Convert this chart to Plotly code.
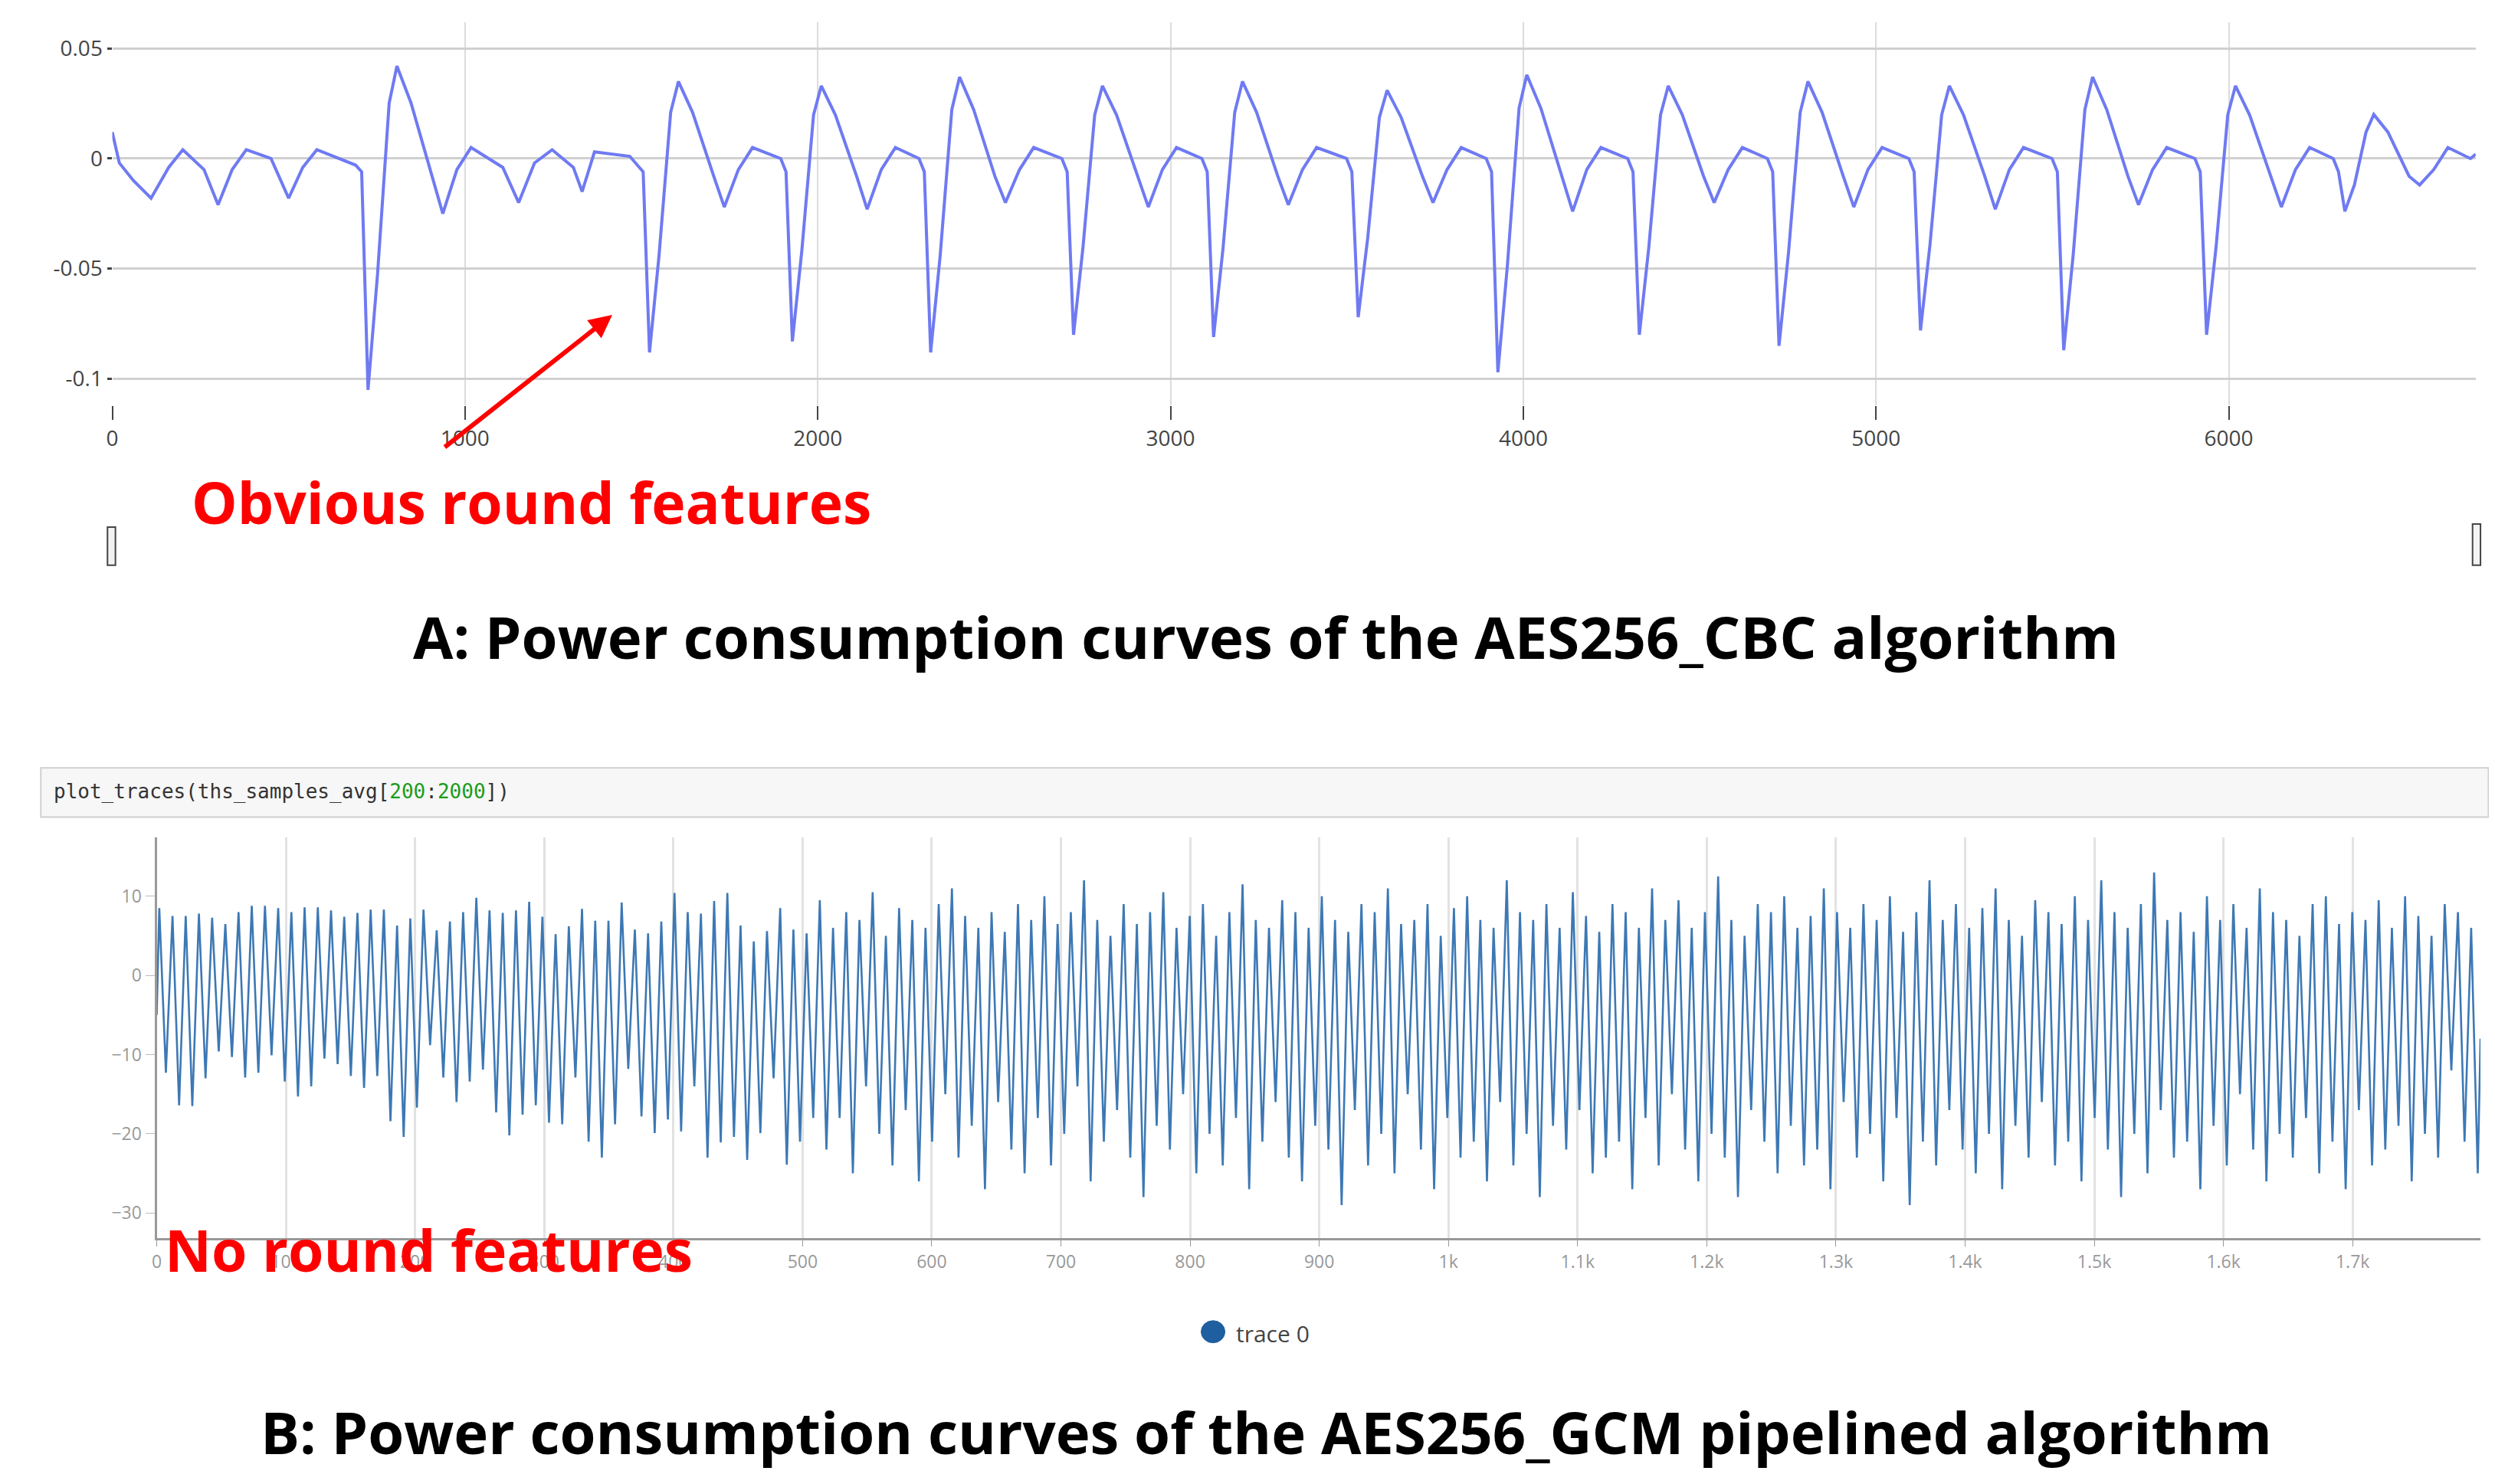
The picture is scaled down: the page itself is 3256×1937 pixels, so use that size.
import plotly.graph_objects as go

W, H = 3256, 1937
DW, DH = 1568, 937  # coordinates below are read on a 1568x937 view


def px(x):
    return x / DW


def py(y):
    return 1 - y / DH


# ---- A: AES256_CBC, one vertex list per round
pre_x = [0, 20, 60, 110, 160, 200, 260, 300, 340, 380, 450, 500, 540, 580, 690]
pre_y = [0.012, -0.002, -0.01, -0.018, -0.004, 0.004, -0.005, -0.021, -0.005, 0.004, 0.0, -0.018, -0.004, 0.004, -0.003]
round_start = [707, 1505, 1910, 2302, 2707, 3104, 3514, 3910, 4311, 4707, 5108, 5514, 5919, 6311]
round_trough = [-0.105, -0.088, -0.083, -0.088, -0.080, -0.081, -0.072, -0.097, -0.080, -0.085, -0.078, -0.087, -0.080, -0.024]
round_peak = [0.042, 0.035, 0.033, 0.037, 0.033, 0.035, 0.031, 0.038, 0.033, 0.035, 0.033, 0.037, 0.033, 0.020]
round_dip = [-0.025, -0.022, -0.023, -0.020, -0.022, -0.021, -0.020, -0.024, -0.020, -0.022, -0.023, -0.021, -0.022, -0.012]
end_x, end_y = 6700, 0.002

top_x, top_y = list(pre_x), list(pre_y)
for i, d in enumerate(round_start):
    t, p, dp = round_trough[i], round_peak[i], round_dip[i]
    nxt = round_start[i + 1] if i + 1 < len(round_start) else end_x
    shape = [(0, -0.006), (18, t), (45, t * 0.5), (78, p * 0.6), (100, p),
             (140, p * 0.6), (200, -0.008), (230, dp), (270, -0.005), (310, 0.005)]
    for ox, oy in shape:
        if d + ox < nxt:
            top_x.append(d + ox)
            top_y.append(oy)
    # extra small dips in the long gap after the first round
    if nxt - d > 600:
        for ox, oy in [(400, -0.004), (445, -0.02), (490, -0.002), (540, 0.004),
                       (600, -0.004), (625, -0.015), (660, 0.003), (760, 0.001)]:
            top_x.append(d + ox)
            top_y.append(oy)
    if nxt - d <= 600:
        top_x.append(nxt - 15)
        top_y.append(0.0)
top_x.append(end_x)
top_y.append(end_y)

# ---- B: AES256_GCM pipelined, peak / trough per oscillation
peaks = [8.5, 7.5, 7.5, 7.8, 7.3, 6.5, 8, 8.8, 8.8, 8.5, 8, 8.6, 8.6, 8.2, 7.4, 7.9, 8.3, 8.3, 6.3, 7.2,
         8.3, 5.7, 6.8, 8, 9.8, 8.2, 7.9, 8.2, 9.3, 7.4, 5.2, 6.2, 8.4, 6.9, 6.9, 9.2, 5.8, 5.3, 6.8, 10.4,
         8, 7.8, 9.4, 10.4, 6.3, 4.3, 5.6, 8.5, 5.8, 5.3,
         9.5, 6, 8, 7, 10.5, 5, 8.5, 7, 6, 9, 11, 7.5, 6, 8, 5.5, 9, 7, 10, 6.5, 8, 12, 7, 5, 9, 6.5, 8,
         10.5, 6, 7.5, 9, 5, 8, 11.5, 7, 6, 9.5, 8, 6, 10, 7, 5.5, 9, 8, 11, 6.5, 7, 9, 5, 8.5, 10, 7, 6,
         12, 8, 7, 9, 6, 10.5, 7.5, 5.5, 9, 8, 6, 11, 7, 9.5, 6, 8, 12.5, 7, 5, 9, 8, 10, 6, 7.5, 11, 8,
         6, 9, 7, 10, 5.5, 8, 12, 7, 9, 6, 8.5, 11, 7, 5, 9.5, 8, 6.5, 10, 7, 12, 8, 6, 9, 13, 7, 8, 5.5,
         10, 7, 9, 6, 11, 8, 7, 5, 9, 10, 6.5, 8, 7, 9.5, 6, 10, 7.5, 5, 9, 8, 6]
troughs = [-12.3, -16.4, -16.5, -13, -9.6, -10.3, -12.9, -12.3, -10.1, -13.4, -15.3, -14, -10.5, -11.2, -12.7,
           -14.2, -12.7, -18.4, -20.4, -16.7, -8.8, -12.9, -16, -13.4, -11.9, -17.3, -20.2, -17.6, -16.4, -18.6,
           -18.8, -12.9, -21, -23, -18.8, -11.8, -17.8, -19.9, -18.2, -19.7, -14, -23, -21.1, -20.4, -23.3,
           -19.9, -13, -23.9, -21, -18,
           -22, -18, -25, -14, -20, -24, -17, -26, -21, -15, -23, -19, -27, -16, -22, -25, -18, -24, -20, -14,
           -26, -21, -17, -23, -28, -19, -22, -15, -25, -20, -24, -18, -27, -21, -16, -23, -26, -19, -22, -29,
           -17, -24, -20, -25, -15, -22, -27, -18, -23, -21, -26, -16, -24, -20, -28, -19, -22, -17, -25, -23,
           -21, -27, -18, -24, -15, -22, -26, -20, -23, -28, -17, -21, -25, -19, -24, -22, -27, -16, -23, -20,
           -26, -18, -29, -21, -24, -17, -22, -25, -20, -27, -19, -23, -16, -24, -21, -26, -18, -22, -28, -20,
           -25, -17, -23, -21, -27, -19, -24, -15, -22, -26, -20, -23, -18, -25, -21, -27, -17, -24, -22, -19,
           -26, -20, -23, -12, -21, -25]
n_samples = 1800
n_cyc = min(len(peaks), len(troughs))
period = n_samples / n_cyc
bx, by = [0], [-5]
for i in range(n_cyc):
    bx += [i * period + 2, i * period + 2 + period / 2]
    by += [peaks[i], troughs[i]]
bx.append(n_samples - 1)
by.append(-8)

b_ticks = list(range(0, 1800, 100))
b_ticktext = [str(v) if v < 1000 else f"{v / 1000:g}k" for v in b_ticks]

fig = go.Figure()
fig.add_trace(go.Scatter(x=top_x, y=top_y, mode="lines", line=dict(color="#6f7af2", width=4),
                         xaxis="x", yaxis="y", showlegend=False))
fig.add_trace(go.Scatter(x=bx, y=by, mode="lines", line=dict(color="#3d78b4", width=2.6),
                         xaxis="x2", yaxis="y2", showlegend=False))

fig.update_layout(
    width=W, height=H, margin=dict(l=0, r=0, t=0, b=0),
    paper_bgcolor="white", plot_bgcolor="white", font=dict(family="Open Sans"),
    xaxis=dict(domain=[px(63), px(1552)], range=[0, 6700], anchor="y", tickvals=list(range(0, 7000, 1000)),
               showgrid=True, gridcolor="#dcdcdc", gridwidth=2, zeroline=False, ticks="outside",
               ticklen=18, tickcolor="#444", tickwidth=2, tickfont=dict(size=28, color="#444")),
    yaxis=dict(domain=[py(252), py(10)], range=[-0.112, 0.062], anchor="x", tickvals=[-0.1, -0.05, 0, 0.05],
               ticktext=["-0.1", "-0.05", "0", "0.05"], showgrid=True, gridcolor="#d0d0d0", gridwidth=3,
               zeroline=False, ticks="outside", ticklen=6, tickcolor="#444", tickwidth=3,
               tickfont=dict(size=28, color="#444")),
    xaxis2=dict(domain=[px(91), px(1555)], range=[0, 1799], anchor="y2", tickvals=b_ticks, ticktext=b_ticktext,
                showgrid=True, gridcolor="#e2e2e2", gridwidth=3, zeroline=False, showline=True,
                linecolor="#999", linewidth=3, ticks="outside", ticklen=8, tickcolor="#999",
                tickfont=dict(size=23, color="#999")),
    yaxis2=dict(domain=[py(778), py(525)], range=[-33.2, 17.4], anchor="x2", tickvals=[-30, -20, -10, 0, 10],
                showgrid=False, zeroline=False, showline=True, linecolor="#999", linewidth=3,
                ticks="outside", ticklen=12, tickcolor="#bbb", tickfont=dict(size=23, color="#999")),
)

shapes = [
    # range slider handles
    dict(type="rect", xref="paper", yref="paper", x0=px(60), x1=px(65), y0=py(353), y1=py(329),
         line=dict(color="#444", width=2), fillcolor="#f2f2f2"),
    dict(type="rect", xref="paper", yref="paper", x0=px(1550), x1=px(1555), y0=py(353), y1=py(327),
         line=dict(color="#444", width=2), fillcolor="#f2f2f2"),
    # notebook code cell
    dict(type="rect", xref="paper", yref="paper", x0=px(18), x1=px(1560), y0=py(512), y1=py(481),
         line=dict(color="#d0d0d0", width=2), fillcolor="#f7f7f7", layer="below"),
    # legend marker
    dict(type="circle", xref="paper", yref="paper", x0=px(749), x1=px(764), y0=py(844), y1=py(830),
         line=dict(color="#1f5fa0", width=1), fillcolor="#1f5fa0"),
]
fig.update_layout(shapes=shapes)

title_font = dict(family="Open Sans", size=76, color="black")
red_font = dict(family="Open Sans", size=75, color="#ff0000")
annotations = [
    dict(text="<b>A: Power consumption curves of the AES256_CBC algorithm</b>", x=px(790), y=py(398),
         font=title_font),
    dict(text="<b>B: Power consumption curves of the AES256_GCM pipelined algorithm</b>", x=px(790), y=py(900),
         font=title_font),
    dict(text="<b>Obvious round features</b>", x=px(327), y=py(313), font=red_font),
    dict(text="<b>No round features</b>", x=px(95), y=py(785), xanchor="left", font=red_font),
    dict(text="plot_traces(ths_samples_avg[<span style='color:#1a9c1a'>200</span>:"
              "<span style='color:#1a9c1a'>2000</span>])",
         x=px(25), y=py(496), xanchor="left", font=dict(family="DejaVu Sans Mono", size=26, color="#333")),
    dict(text="trace 0", x=px(770), y=py(838), xanchor="left", font=dict(family="Open Sans", size=30, color="#444")),
    dict(text="", x=px(378), y=py(195), ax=(272 - 378) * W / DW, ay=(279 - 195) * H / DH,
         showarrow=True, arrowhead=2, arrowsize=1, arrowwidth=6, arrowcolor="#ff0000"),
]
for a in annotations:
    a.setdefault("xref", "paper")
    a.setdefault("yref", "paper")
    a.setdefault("showarrow", False)
    a.setdefault("xanchor", "center")
    a.setdefault("yanchor", "middle")
fig.update_layout(annotations=annotations)

fig.write_html("out.html")
